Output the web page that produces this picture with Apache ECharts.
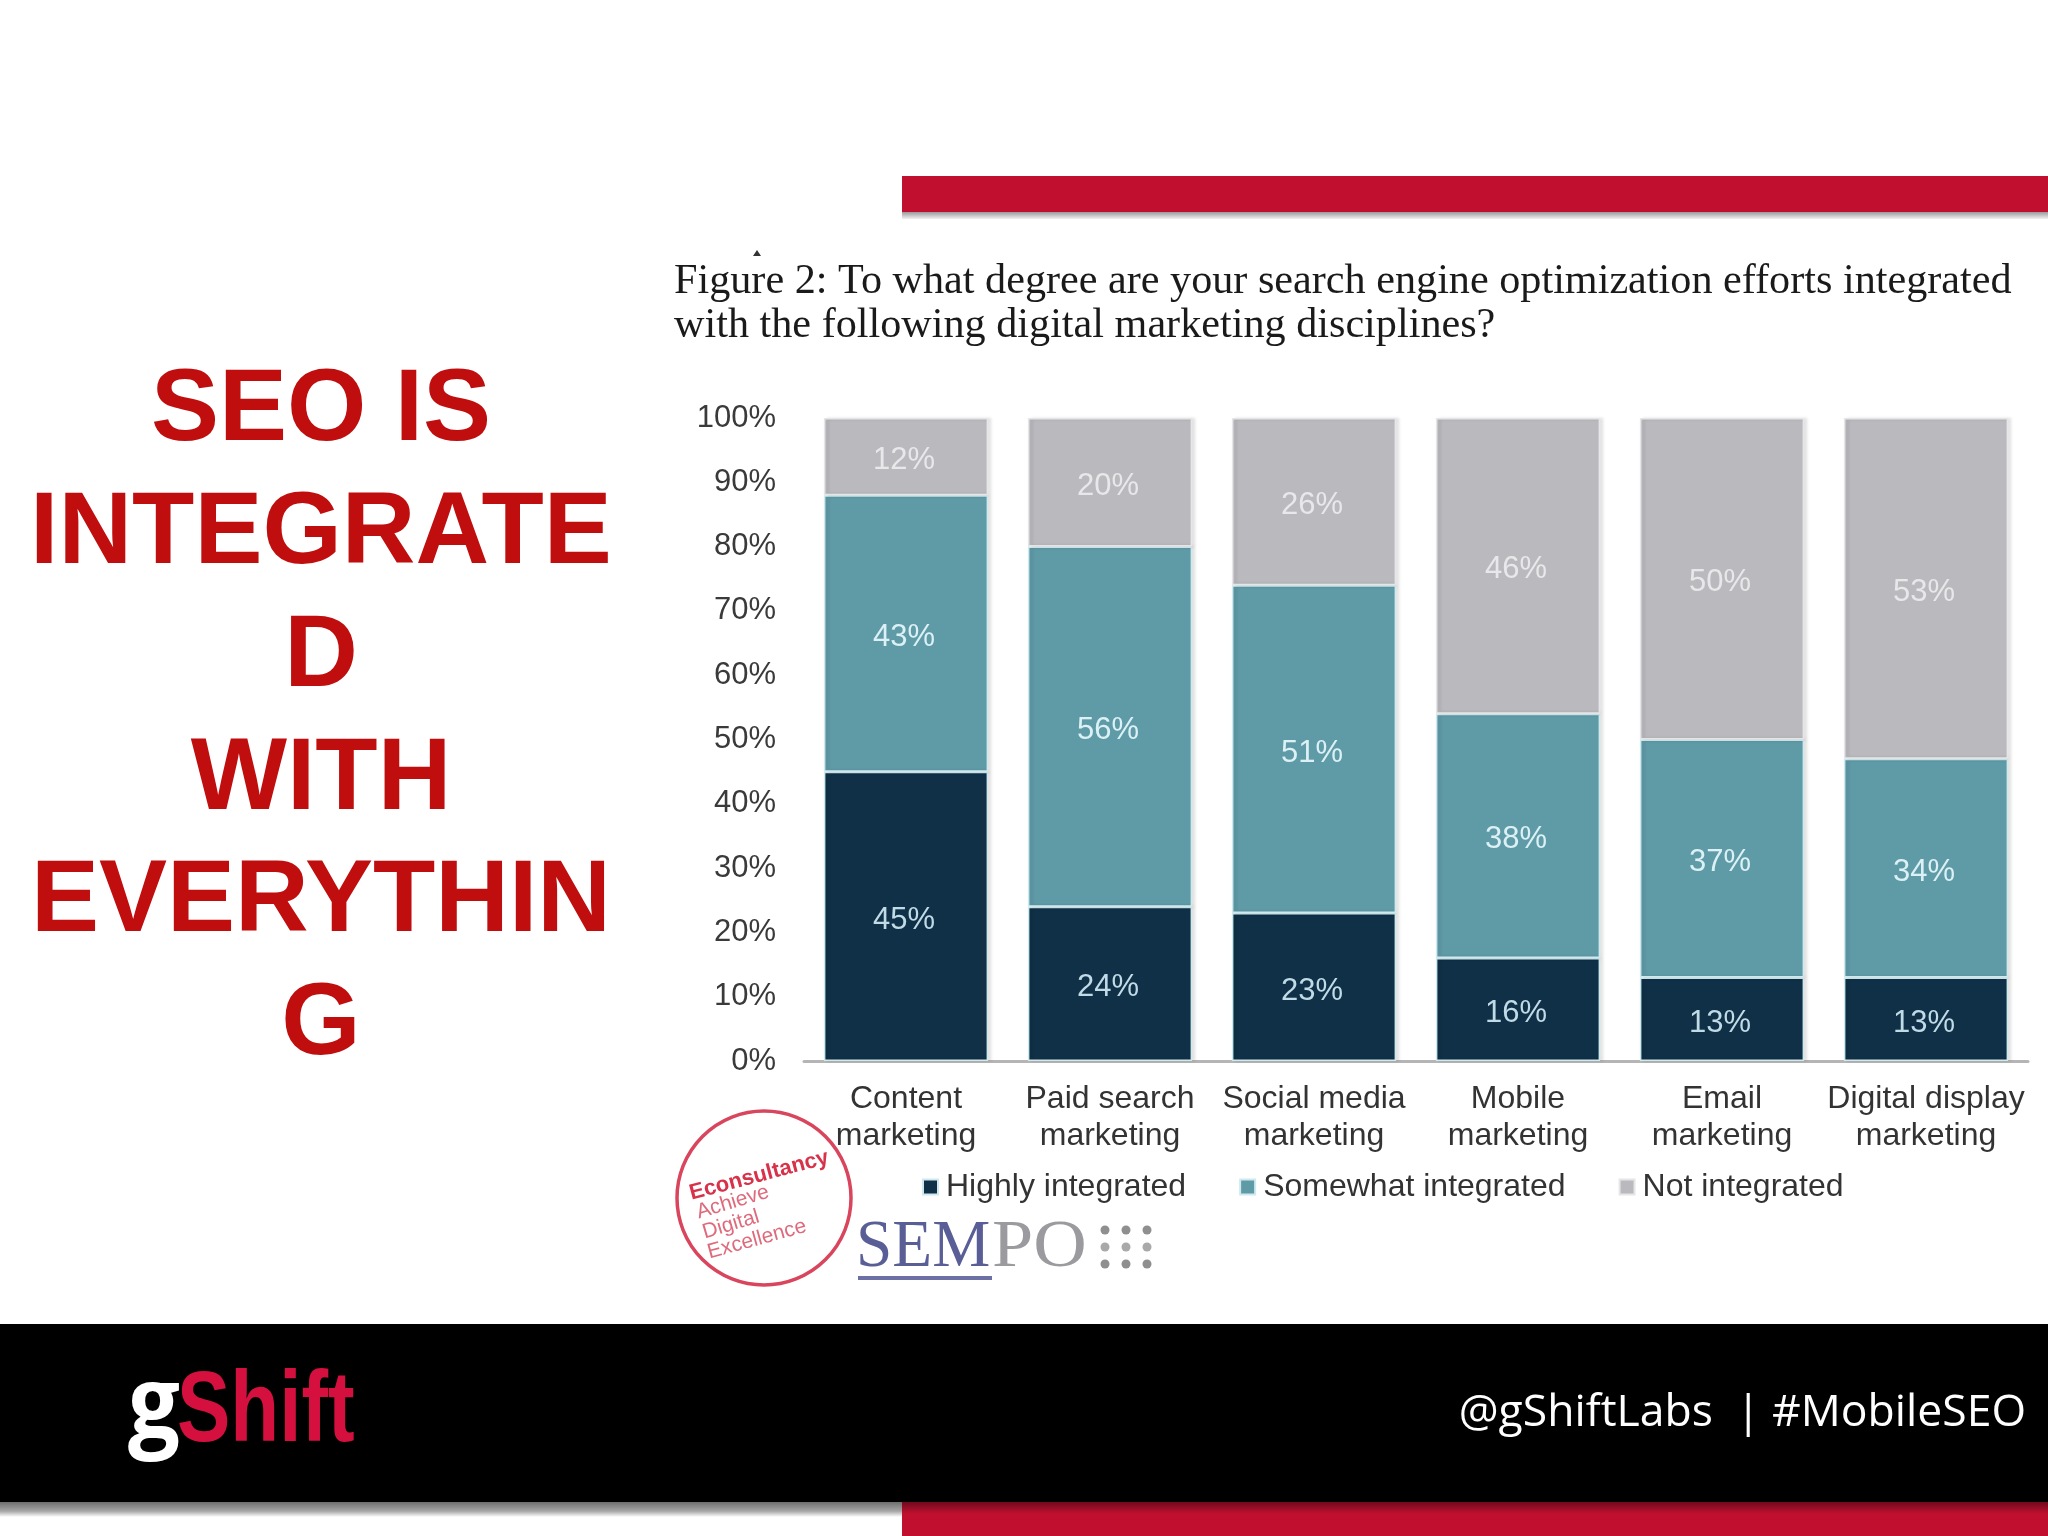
<!DOCTYPE html>
<html><head><meta charset="utf-8">
<style>html,body{margin:0;padding:0;background:#fff}#c{width:2048px;height:1536px}</style>
<script src="https://cdn.jsdelivr.net/npm/echarts@6/dist/echarts.min.js"></script>
</head><body><div id="c"></div>
<script>
const categories = ['Content\nmarketing','Paid search\nmarketing','Social media\nmarketing','Mobile\nmarketing','Email\nmarketing','Digital display\nmarketing'];
const highly = [45,24,23,16,13,13];
const somewhat = [43,56,51,38,37,34];
const notIntegrated = [12,20,26,46,50,53];
const yTicks = [0,10,20,30,40,50,60,70,80,90,100];
const chartTitle = 'Figure 2: To what degree are your search engine optimization efforts integrated\nwith the following digital marketing disciplines?';
const headlineLines = ['SEO IS','INTEGRATE','D','WITH','EVERYTHIN','G'];
const handleText = '@gShiftLabs  | #MobileSEO';

const RED='#c1102f', SANS='"Liberation Sans",Arial,sans-serif', SERIF='"Liberation Serif",serif';
const txt=(x,y,text,fontSize,fill,o={})=>({type:'text',x,y,rotation:o.rotation||0,scaleX:o.scaleX||1,z:o.z||1,style:{text,fontSize,fill,fontFamily:o.font||SANS,fontWeight:o.weight||'normal',align:o.align||'left',verticalAlign:o.va||'middle',opacity:o.opacity==null?1:o.opacity}});
const rect=(x,y,w,h,fill,z)=>({type:'rect',z:z||0,shape:{x,y,width:w,height:h},style:{fill}});
const dots=[];
[0,1,2].forEach(i=>[0,1,2].forEach(j=>dots.push({type:'circle',shape:{cx:1105+i*21,cy:1230+j*17,r:4.5},style:{fill:j==1?'#a9a9a9':'#8f8f8f'}})));

const graphic=[
  rect(902,176,1146,36,RED),
  {type:'rect',shape:{x:902,y:212,width:1146,height:7},style:{fill:{type:'linear',x:0,y:0,x2:0,y2:1,colorStops:[{offset:0,color:'#9a9a9a'},{offset:1,color:'#f2f2f2'}]}}},
  rect(0,1324,2048,178,'#000'),
  {type:'rect',shape:{x:0,y:1502,width:902,height:15},style:{fill:{type:'linear',x:0,y:0,x2:0,y2:1,colorStops:[{offset:0,color:'#6e6e6e'},{offset:.6,color:'#a5a5a5'},{offset:1,color:'#ffffff'}]}}},
  {type:'rect',shape:{x:902,y:1502,width:1146,height:34},style:{fill:{type:'linear',x:0,y:0,x2:0,y2:1,colorStops:[{offset:0,color:'#6f0a1e'},{offset:.35,color:RED},{offset:1,color:RED}]}}},
  ...headlineLines.map((s,i)=>txt(321,412,s,102,'#c00d0d',{weight:'bold',align:'center'})).map((t,i)=>Object.assign(t,{y:412+i*122.8})),
  txt(128,1410,'g',100,'#fff',{weight:'bold',font:'"Open Sans",sans-serif',scaleX:0.92}),
  txt(177,1413,'Shift',100,'#d5103f',{weight:'bold',scaleX:0.8}),
  txt(2026,1413,handleText,44.5,'#fff',{font:'"Open Sans",sans-serif',align:'right'}),
  {type:'circle',shape:{cx:764,cy:1198,r:87},style:{fill:'rgba(255,255,255,0)',stroke:'#d9455c',lineWidth:3.5}},
  txt(690,1194,'Econsultancy',22,'#d8324a',{weight:'bold',rotation:0.26}),
  txt(697,1213,'Achieve',21,'#de6a7c',{rotation:0.29}),
  txt(703,1233,'Digital',21,'#de6a7c',{rotation:0.29}),
  txt(708,1253,'Excellence',21,'#de6a7c',{rotation:0.27}),
  txt(856,1248,'SEM',68,'#5a5e96',{font:SERIF,scaleX:0.96}),
  txt(992,1248,'PO',68,'#9b9b9f',{font:SERIF,scaleX:1.09}),
  rect(858,1276,134,4,'#6d70a5'),
  {type:'polygon',shape:{points:[[753,256],[757,250],[761,256]]},style:{fill:'#333'}},
  ...dots
];

const seriesBase=(name,data,color,labelColor,edge)=>({name,type:'bar',stack:'total',data,barWidth:'80.5%',z:3,
  itemStyle:{color,borderColor:edge,borderWidth:1.5,shadowColor:'rgba(0,0,0,0.12)',shadowBlur:3,shadowOffsetX:3},
  label:{show:true,position:'inside',offset:[-2,4],formatter:'{c}%',color:labelColor,fontSize:31,fontFamily:SANS}});

const chart=echarts.init(document.getElementById('c'),null,{renderer:'canvas'});
chart.setOption({
  animation:false,backgroundColor:'#fff',
  title:{text:chartTitle,left:669,top:255,textStyle:{fontFamily:SERIF,fontWeight:'normal',fontSize:42.2,lineHeight:44,color:'#1a1a1a'}},
  legend:{left:917,top:1166,itemWidth:15,itemHeight:15,itemGap:53,icon:'rect',textStyle:{fontFamily:SANS,fontSize:32,color:'#333',padding:[0,0,0,3]},data:['Highly integrated','Somewhat integrated','Not integrated']},
  grid:{left:804,right:20,top:418,bottom:475,containLabel:false},
  xAxis:{type:'category',data:categories,axisTick:{show:false},axisLine:{lineStyle:{color:'#b5b5b5',width:3}},axisLabel:{fontFamily:SANS,fontSize:32,lineHeight:37,color:'#333',margin:20,interval:0}},
  yAxis:{type:'value',min:yTicks[0],max:yTicks[yTicks.length-1],interval:yTicks[1]-yTicks[0],splitLine:{show:false},axisLine:{show:false},axisTick:{show:false},axisLabel:{formatter:'{value}%',fontFamily:SANS,fontSize:31,color:'#3a3a3a',margin:28}},
  graphic:{elements:graphic},
  series:[seriesBase('Highly integrated',highly,'#0f3047','#c0dbe6','#cfeaef'),seriesBase('Somewhat integrated',somewhat,'#5f9aa7','#dcf1f5','#cfeaef'),seriesBase('Not integrated',notIntegrated,'#bab9bd','#e8e8ea','#e6e6e8')]
});
</script></body></html>
